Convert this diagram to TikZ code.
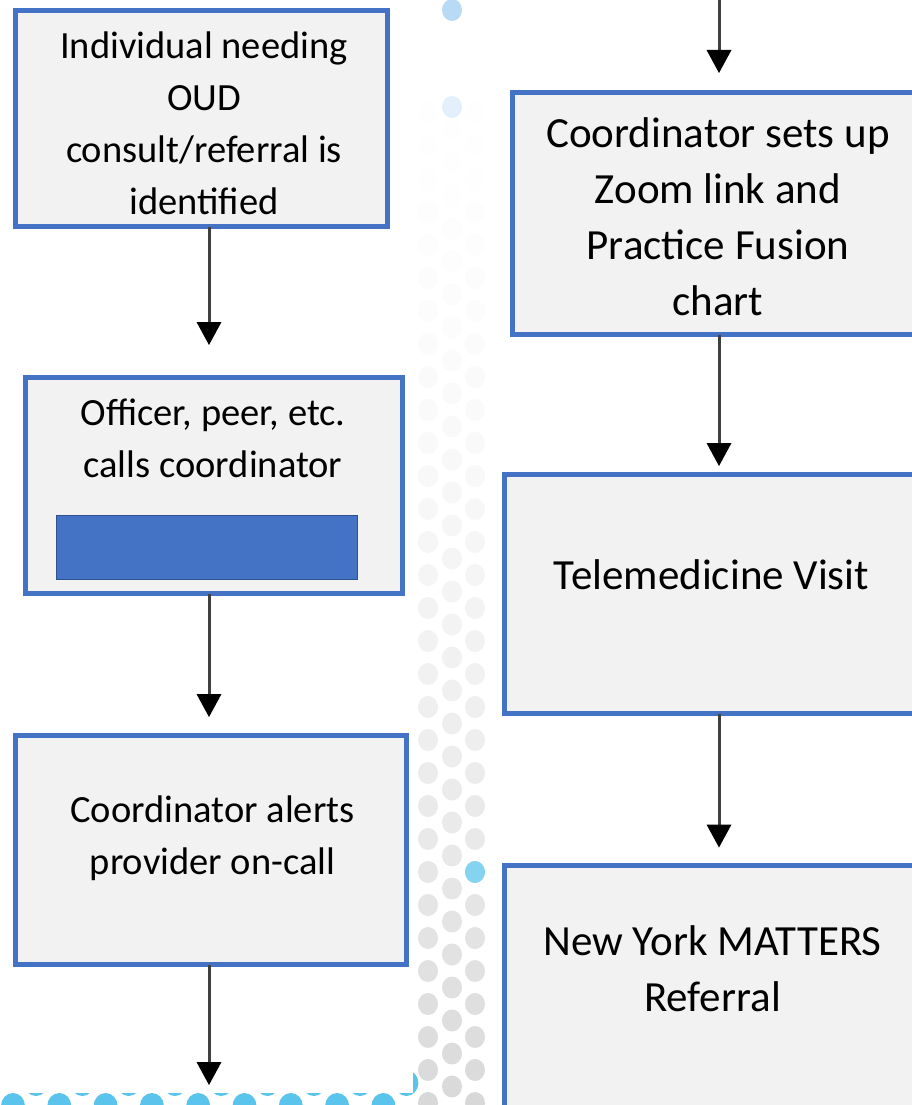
\documentclass[tikz,border=0pt]{standalone}
\usepackage{fontspec}
\setmainfont{Carlito}
\usetikzlibrary{arrows.meta}
\definecolor{boxblue}{HTML}{4472C4}
\definecolor{boxfill}{HTML}{F2F2F2}
\definecolor{innerblue}{HTML}{4472C4}
\definecolor{innerline}{HTML}{2F528F}
\definecolor{linegray}{HTML}{404040}
\definecolor{dotblue}{HTML}{5BC4EC}
\definecolor{paleblue}{HTML}{B9DAF5}
\tikzset{
  flowbox/.style={draw=boxblue, line width=5pt, fill=boxfill, inner sep=0pt, outer sep=0pt},
  ltext/.style={font=\fontsize{38.5}{52}\selectfont, align=center, anchor=north, inner sep=0pt, text=black},
  rtext/.style={font=\fontsize{43}{56}\selectfont, align=center, anchor=north, inner sep=0pt, text=black},
  flowarrow/.style={draw=linegray, line width=3pt, -{Triangle[width=25pt,length=23pt,fill=black,line width=0pt]}},
}
\begin{document}
\begin{tikzpicture}[x=1pt,y=-1pt]
\useasboundingbox (0,0) rectangle (912,1105);
\clip (0,0) rectangle (912,1105);
\fill[white] (0,0) rectangle (912,1105);
% decorative dot strip
\foreach \k in {-27,...,8}{
  \pgfmathsetmacro{\ya}{872+33*\k}
  \pgfmathsetmacro{\yb}{855.5+33*\k}
  \pgfmathsetmacro{\sa}{min(16,15*(max(1,\ya)/1100)^2)}
  \pgfmathsetmacro{\sb}{min(16,15*(max(1,\yb)/1100)^2)}
  \fill[black!\sa] (428,\ya) ellipse [x radius=10, y radius=11];
  \fill[black!\sa] (475,\ya) ellipse [x radius=10, y radius=11];
  \fill[black!\sb] (452,\yb) ellipse [x radius=10, y radius=11];
}
\fill[paleblue] (452,10) ellipse [x radius=10, y radius=11];
\fill[paleblue!40] (452,107) ellipse [x radius=10, y radius=11];
\fill[dotblue!75] (475,872) ellipse [x radius=10, y radius=11];
% bottom blue dots
\foreach \k in {0,...,8}{
  \fill[dotblue] (13+46.3*\k,1106) ellipse [x radius=12, y radius=13];
  \fill[dotblue] (36+46.3*\k,1083) ellipse [x radius=12, y radius=13];
}
\fill[white] (0,0) rectangle (413,1092.5);

% anchors for connectors
\coordinate (lx) at (209,0);
\coordinate (rx) at (719,0);
\coordinate (top) at (719,0);
\coordinate (bottom) at (209,1085);

% boxes
\node[flowbox, minimum width=372pt, minimum height=216pt] (b1) at (201.5,118.5) {};
\node[flowbox, minimum width=377pt, minimum height=216pt] (b2) at (214,485.5) {};
\node[flowbox, minimum width=391pt, minimum height=229pt] (b3) at (211,850) {};
\node[flowbox, minimum width=413pt, minimum height=242pt] (b4) at (719,213.5) {};
\node[flowbox, minimum width=429pt, minimum height=239pt] (b5) at (719,594) {};
\node[flowbox, minimum width=429pt, minimum height=265pt] (b6) at (719,997.5) {};
\node[draw=innerline, line width=1.5pt, fill=innerblue, minimum width=301pt, minimum height=64pt, inner sep=0pt] (bar) at (207,547.5) {};

% connectors
\draw[flowarrow, shorten >=32.5pt] (b1.south -| lx) -- (b2.north -| lx);
\draw[flowarrow, shorten >=18.5pt] (b2.south -| lx) -- (b3.north -| lx);
\draw[flowarrow] (b3.south -| lx) -- (bottom);
\draw[flowarrow, shorten >=19.5pt] (top) -- (b4.north -| rx);
\draw[flowarrow, shorten >=8.5pt] (b4.south -| rx) -- (b5.north -| rx);
\draw[flowarrow, shorten >=17.5pt] (b5.south -| rx) -- (b6.north -| rx);

% texts
\node[ltext] (t1) at (204,21.6) {\strut Individual needing\\\strut OUD\\\strut consult/referral is\\\strut identified};
\node[ltext] (t2) at (213,388.6) {\strut Officer, peer, etc.\\\strut calls coordinator};
\node[ltext] (t3) at (212.5,785.6) {\strut Coordinator alerts\\\strut provider on-call};
\node[rtext] (t4) at (718,107.8) {\strut Coordinator sets up\\\strut Zoom link and\\\strut Practice Fusion\\\strut chart};
\node[rtext] (t5) at (711.5,549.8) {\strut Telemedicine Visit};
\node[rtext] (t6) at (712.5,915.8) {\strut New York MATTERS\\\strut Referral};
\end{tikzpicture}
\end{document}
